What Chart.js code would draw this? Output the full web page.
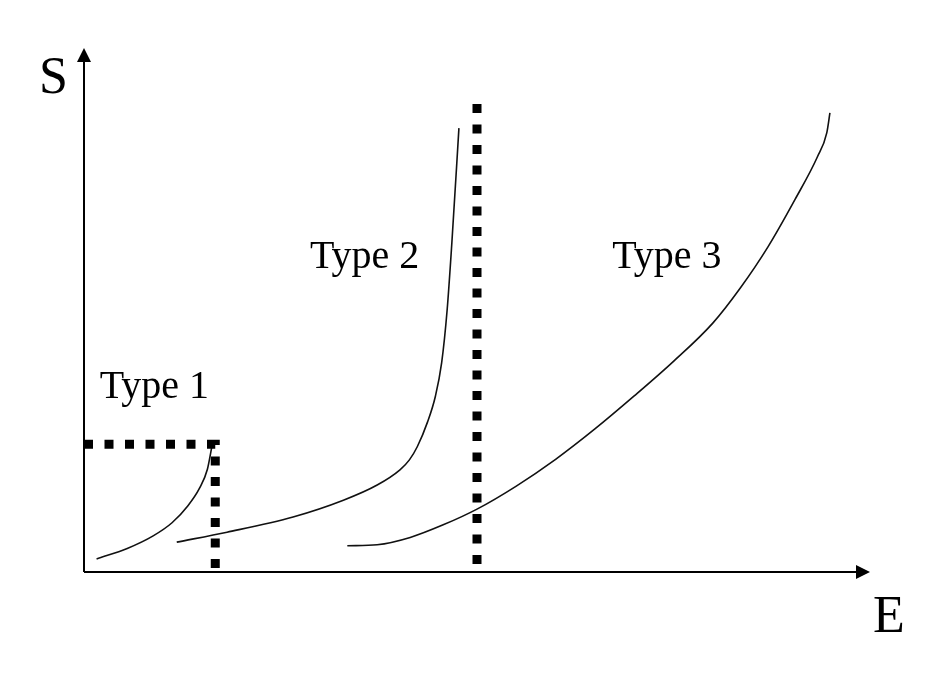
<!DOCTYPE html>
<html lang="en">
<head>
  <meta charset="UTF-8">
  <title>S versus E - three types</title>
  <script src="https://cdn.jsdelivr.net/npm/chart.js"></script>
  <style>
    body {
      margin: 0;
      padding: 0;
      background-color: #fff;
    }
    #wrap {
      width: 942px;
      height: 681px;
      position: relative;
    }
  </style>
</head>
<body>
  <div id="wrap">
    <canvas id="curveChart"></canvas>
  </div>

  <script>
    // curves (axis units 0..100)
    const type1X = [1.6, 5.5, 8.8, 11.2, 13.2, 14.7, 15.7, 16.3];
    const type1Y = [2.5, 4.5, 6.9, 9.4, 12.6, 16.0, 19.6, 24.2];

    const type2X = [11.8, 18.2, 26.6, 33.0, 37.3, 40.2, 41.4, 42.4, 43.7, 44.7, 45.5, 46.2, 46.8, 47.7];
    const type2Y = [5.7, 7.6, 10.5, 13.7, 16.6, 19.5, 21.4, 23.9, 28.6, 33.5, 39.9, 50.0, 62.8, 84.7];

    const type3X = [33.5, 37.3, 41.5, 45.7, 50.0, 55.0, 60.0, 65.0, 70.0, 75.0, 80.0, 83.5, 87.0, 90.5, 93.3, 94.5, 94.9];
    const type3Y = [5.0, 5.2, 6.6, 9.0, 12.0, 16.4, 21.5, 27.3, 33.6, 40.2, 47.5, 54.2, 62.0, 71.2, 79.2, 83.8, 87.6];

    // dotted limit lines
    const limit1X = [0, 16.7, 16.7];
    const limit1Y = [24.4, 24.4, 0];
    const limit2X = [50.0, 50.0];
    const limit2Y = [89.3, 0];

    // text labels on the plot
    const labelText = ['Type 1', 'Type 2', 'Type 3'];
    const labelX = [2.0, 28.75, 67.2];
    const labelY = [33.2, 58.0, 58.0];

    const toPoints = (xs, ys) => xs.map((x, i) => ({ x: x, y: ys[i] }));

    const dotted = {
      borderColor: '#000',
      borderWidth: 9,
      borderDash: [9, 11.5],
      borderCapStyle: 'butt',
      pointRadius: 0,
      tension: 0,
      fill: false
    };
    const curve = {
      borderColor: '#111',
      borderWidth: 1.6,
      pointRadius: 0,
      cubicInterpolationMode: 'monotone',
      fill: false
    };

    const axesAndText = {
      id: 'axesAndText',
      afterDatasetsDraw(chart) {
        const c = chart.ctx;
        const xs = chart.scales.x;
        const ys = chart.scales.y;
        const area = chart.chartArea;
        const x0 = xs.getPixelForValue(0);
        const y0 = ys.getPixelForValue(0);

        c.save();
        c.strokeStyle = '#000';
        c.fillStyle = '#000';
        c.lineWidth = 2;
        c.beginPath();
        c.moveTo(x0, y0);
        c.lineTo(area.right - 10, y0);
        c.moveTo(x0, y0);
        c.lineTo(x0, area.top + 10);
        c.stroke();

        // arrow heads
        c.beginPath();
        c.moveTo(area.right, y0);
        c.lineTo(area.right - 14, y0 - 7);
        c.lineTo(area.right - 14, y0 + 7);
        c.closePath();
        c.fill();
        c.beginPath();
        c.moveTo(x0, area.top);
        c.lineTo(x0 - 7, area.top + 14);
        c.lineTo(x0 + 7, area.top + 14);
        c.closePath();
        c.fill();

        c.textBaseline = 'alphabetic';
        c.textAlign = 'left';
        c.font = '40px "Liberation Serif", "Times New Roman", serif';
        labelText.forEach((t, i) => {
          c.fillText(t, xs.getPixelForValue(labelX[i]), ys.getPixelForValue(labelY[i]));
        });

        c.font = '52px "Liberation Serif", "Times New Roman", serif';
        c.fillText('S', x0 - 45, area.top + 45);
        c.fillText('E', area.right + 3, y0 + 60);
        c.restore();
      }
    };

    new Chart(document.getElementById('curveChart'), {
      type: 'line',
      data: {
        datasets: [
          Object.assign({ label: 'limit 1', data: toPoints(limit1X, limit1Y) }, dotted),
          Object.assign({ label: 'limit 2', data: toPoints(limit2X, limit2Y) }, dotted),
          Object.assign({ label: 'Type 1', data: toPoints(type1X, type1Y) }, curve),
          Object.assign({ label: 'Type 2', data: toPoints(type2X, type2Y) }, curve),
          Object.assign({ label: 'Type 3', data: toPoints(type3X, type3Y) }, curve)
        ]
      },
      options: {
        responsive: true,
        maintainAspectRatio: false,
        animation: false,
        layout: {
          padding: { left: 84, right: 72, top: 48, bottom: 109 }
        },
        plugins: {
          legend: { display: false },
          tooltip: { enabled: false }
        },
        scales: {
          x: { type: 'linear', min: 0, max: 100, display: false },
          y: { type: 'linear', min: 0, max: 100, display: false }
        }
      },
      plugins: [axesAndText]
    });
  </script>
</body>
</html>
